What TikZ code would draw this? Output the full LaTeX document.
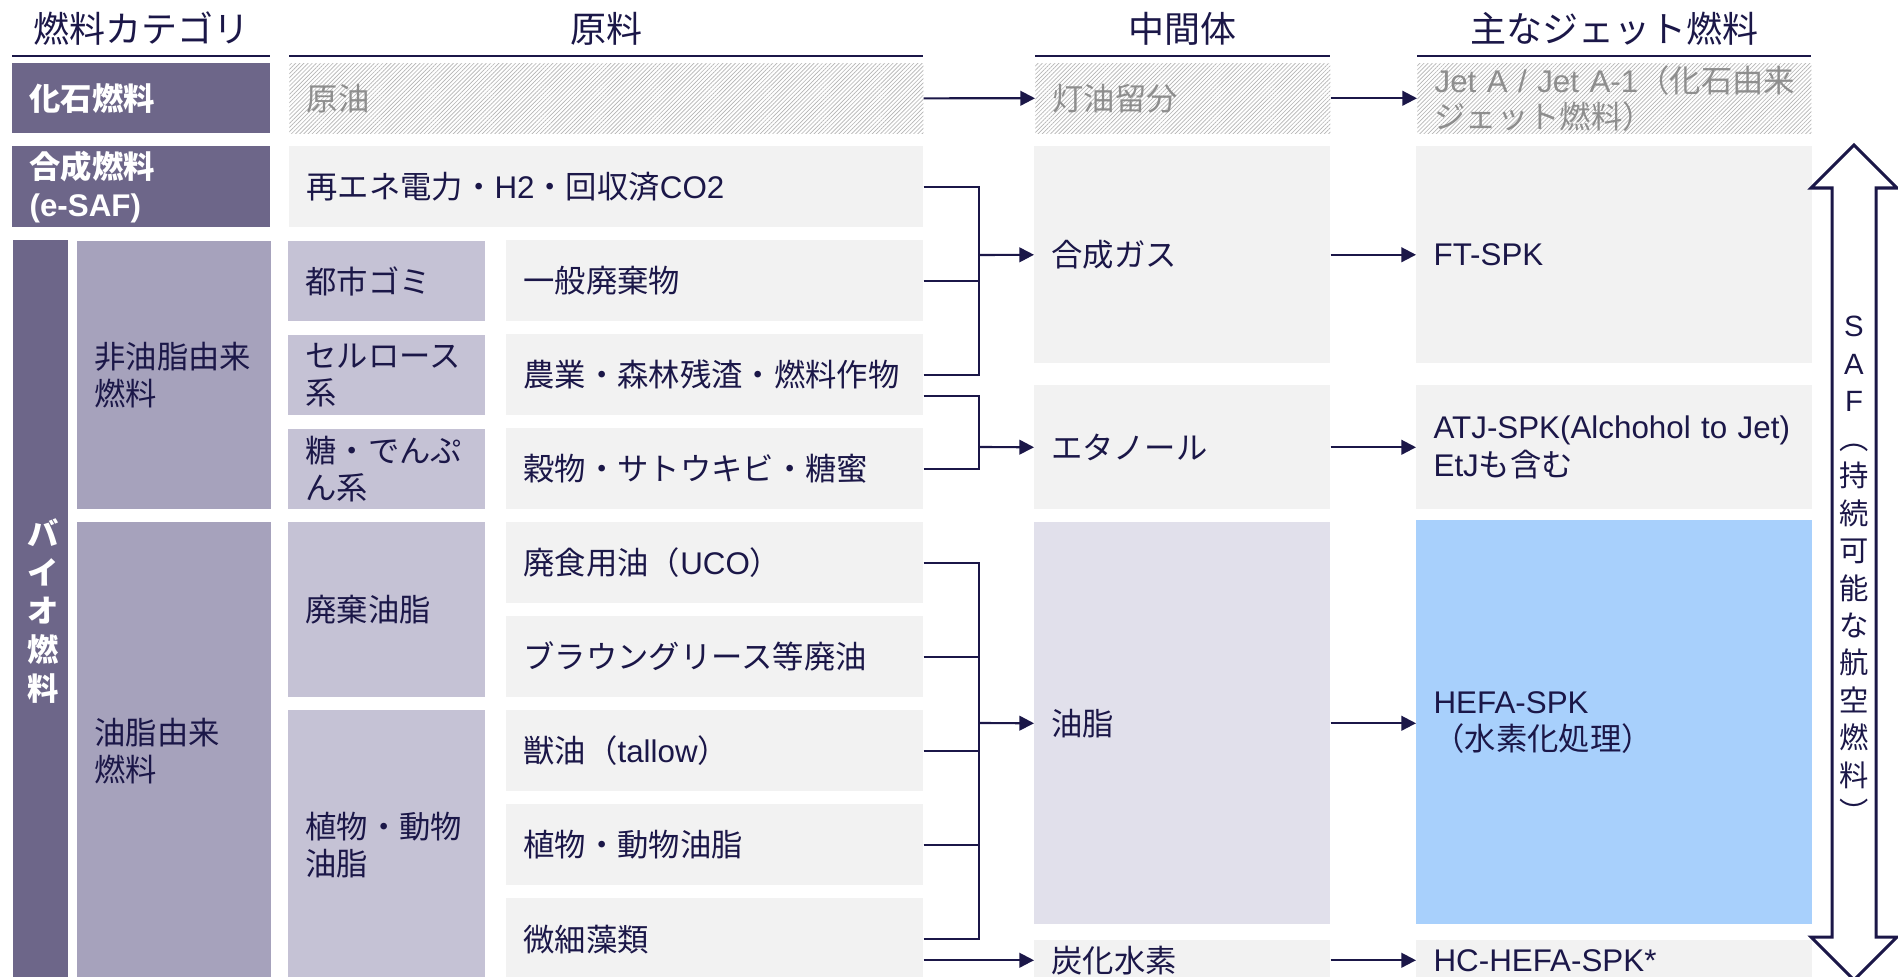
\documentclass[tikz,border=0pt]{standalone}
\usepackage{fontspec}
\setmainfont{Noto Sans CJK JP}
\newfontfamily\latf{Liberation Sans}
\newcommand\latn[1]{{\latf #1}}
\usetikzlibrary{arrows.meta,patterns.meta,calc}
\definecolor{navy}{HTML}{1B1748}
\definecolor{catdark}{HTML}{6D6689}
\definecolor{catmid}{HTML}{A6A2BC}
\definecolor{catlight}{HTML}{C5C2D5}
\definecolor{boxgray}{HTML}{F2F2F2}
\definecolor{oilfill}{HTML}{E1E0EB}
\definecolor{hefafill}{HTML}{A8D0FC}
\definecolor{hatchtext}{HTML}{8E8E8E}
\definecolor{hatchline}{HTML}{B4B4B4}
\tikzset{
 boxbase/.style={inner xsep=11pt, inner ysep=0pt, align=left, font=\fontsize{23.5}{28}\selectfont, text=navy},
 catbox/.style={boxbase, inner xsep=13pt, fill=catdark, text=white, font=\fontsize{23.5}{28.5}\selectfont\bfseries},
 midbox/.style={boxbase, fill=catmid},
 lightbox/.style={boxbase, fill=catlight},
 graybox/.style={boxbase, fill=boxgray},
 oilbox/.style={boxbase, fill=oilfill},
 hefabox/.style={boxbase, fill=hefafill},
 hatchbox/.style={boxbase, text=hatchtext, font=\fontsize{23.5}{27}\selectfont, pattern={Lines[angle=45,distance=2.2pt,line width=0.5pt]}, pattern color=hatchline},
 hdr/.style={font=\fontsize{27}{32}\selectfont, text=navy, inner sep=0pt},
 hline/.style={draw=navy, line width=1.8pt},
 ln/.style={draw=navy, line width=1.6pt},
 arr/.style={ln, -{Triangle[length=11pt,width=11pt]}},
 safarrow/.style={draw=navy, line width=2.25pt, fill=white, line join=miter},
}
\newcommand\bx[7]{%
  \pgfmathsetmacro\bxw{(#5-#3)*0.75}%
  \pgfmathsetmacro\bxh{(#6-#4)*0.75}%
  \pgfmathsetmacro\bxt{(#5-#3)*0.75-26}%
  \node[#2,anchor=north west,minimum width=\bxw pt,minimum height=\bxh pt,text width=\bxt pt] (#1) at (#3,#4) {#7};}
\begin{document}
\begin{tikzpicture}[x=0.75pt,y=-0.75pt]
\useasboundingbox (0,0) rectangle (1898,977);
\clip (0,0) rectangle (1898,977);
\fill[white] (0,0) rectangle (1898,977);

% headers
\node[hdr] (h1) at (141,29) {燃料カテゴリ};
\node[hdr] (h2) at (606,29) {原料};
\node[hdr] (h3) at (1182,29) {中間体};
\node[hdr] (h4) at (1614,29) {主なジェット燃料};
\draw[hline] (12,56) -- (270,56);
\draw[hline] (289,56) -- (923,56);
\draw[hline] (1035,56) -- (1330,56);
\draw[hline] (1417,56) -- (1811,56);

% row 1: fossil
\bx{cfossil}{catbox}{12}{63}{270}{133}{化石燃料}
\bx{crude}{hatchbox}{289}{63}{923}{133}{原油}
\bx{kero}{hatchbox}{1035}{63}{1330}{133}{灯油留分}
\bx{jeta}{hatchbox}{1417}{63}{1811}{133}{\mbox{\latn{Jet A / Jet A-1}（化石由来}\\ジェット燃料）}

% row 2: synthetic
\bx{csyn}{catbox}{12}{146}{270}{227}{合成燃料\\\latn{(e-SAF)}}
\bx{renew}{graybox}{289}{146}{923}{227}{\mbox{再エネ電力・\latn{H2}・回収済\latn{CO2}}}

% bio
\node[fill=catdark, anchor=north west, minimum width=41.25pt, minimum height=555pt, inner sep=0pt] (cbio) at (13,240) {};
\node[align=center, inner sep=0pt, text=white, font=\fontsize{23.5}{29}\selectfont\bfseries] (biotxt) at (43,611) {バ\\イ\\オ\\燃\\料};
\bx{nonoil}{midbox}{77}{241}{271}{509}{非油脂由来\\燃料}
\bx{oilder}{midbox}{77}{522}{271}{980}{油脂由来\\燃料}
\bx{msw}{lightbox}{288}{241}{485}{321}{都市ゴミ}
\bx{cell}{lightbox}{288}{335}{485}{415}{セルロース\\系}
\bx{sugar}{lightbox}{288}{429}{485}{509}{糖・でんぷ\\ん系}
\bx{wfat}{lightbox}{288}{522}{485}{697}{廃棄油脂}
\bx{pfat}{lightbox}{288}{710}{485}{980}{植物・動物\\油脂}
\bx{waste}{graybox}{506}{240}{923}{321}{一般廃棄物}
\bx{agri}{graybox}{506}{334}{923}{415}{農業・森林残渣・燃料作物}
\bx{grain}{graybox}{506}{428}{923}{509}{穀物・サトウキビ・糖蜜}
\bx{uco}{graybox}{506}{522}{923}{603}{廃食用油（\latn{UCO}）}
\bx{brown}{graybox}{506}{616}{923}{697}{ブラウングリース等廃油}
\bx{tallow}{graybox}{506}{710}{923}{791}{獣油（\latn{tallow}）}
\bx{plantoil}{graybox}{506}{804}{923}{885}{植物・動物油脂}
\bx{algae}{graybox}{506}{898}{923}{980}{微細藻類}

% intermediates
\bx{gas}{graybox}{1034}{146}{1330}{363}{合成ガス}
\bx{eth}{graybox}{1034}{385}{1330}{509}{エタノール}
\bx{oil}{oilbox}{1034}{522}{1330}{924}{油脂}
\bx{hc}{graybox}{1034}{940}{1330}{980}{炭化水素}

% jet fuels
\bx{ft}{graybox}{1416}{146}{1812}{363}{\latn{FT-SPK}}
\bx{atj}{graybox}{1416}{385}{1812}{509}{\mbox{\latn{ATJ-SPK(Alchohol to Jet)}}\\\latn{EtJ}も含む}
\bx{hefa}{hefabox}{1416}{520}{1812}{924}{\latn{HEFA-SPK}\\（水素化処理）}
\bx{hcj}{graybox}{1416}{940}{1812}{980}{\latn{HC-HEFA-SPK*}}

% connectors
\coordinate (gbus) at (979,255);
\coordinate (ebus) at (979,447);
\coordinate (obus) at (979,723);
\draw[arr] (crude.east) -- (kero.west);
\draw[arr] (kero.east) -- (jeta.west);
\draw[ln] (renew.east) -| (gbus);
\draw[ln] (waste.east) -| (gbus);
\draw[ln] (agri.east) -| (gbus);
\draw[arr] (gbus) -- (gas.west);
\draw[ln] ($(agri.east)+(0,21)$) -| (ebus);
\draw[ln] (grain.east) -| (ebus);
\draw[arr] (ebus) -- (eth.west);
\foreach \s in {uco,brown,tallow,plantoil,algae}
  \draw[ln] (\s.east) -| (obus);
\draw[arr] (obus) -- (oil.west);
\draw[arr] ($(algae.east)+(0,21)$) -- (hc.west);
\draw[arr] (gas.east) -- (ft.west);
\draw[arr] (eth.east) -- (atj.west);
\draw[arr] (oil.east) -- (oil.east -| hefa.west);
\draw[arr] (hc.east) -- (hcj.west);

% SAF double arrow
\draw[safarrow] (1854,145) -- (1897,188) -- (1876,188) -- (1876,937) -- (1897,937) -- (1854,980) -- (1811,937) -- (1832,937) -- (1832,188) -- (1811,188) -- cycle;
\node[align=center, anchor=north, inner sep=0pt, text=navy, font=\fontsize{22}{28.1}\selectfont] (saftxt) at (1854,316) {\latn{S}\\\latn{A}\\\latn{F}\\︵\\持\\続\\可\\能\\な\\航\\空\\燃\\料\\︶};
\end{tikzpicture}
\end{document}
